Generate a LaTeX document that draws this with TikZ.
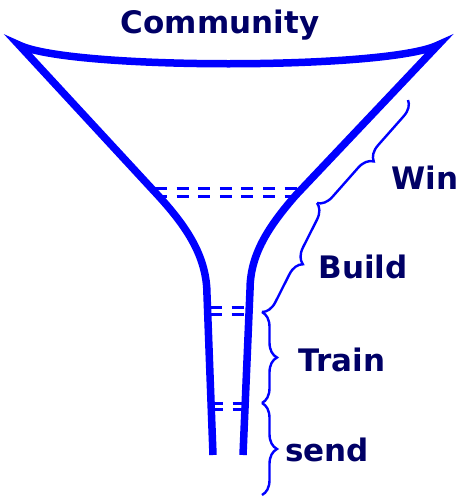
\documentclass[tikz,border=0pt]{standalone}
\usepackage{fontspec}
\setmainfont{DejaVu Sans}
\usetikzlibrary{decorations.pathreplacing}
\definecolor{funnelblue}{RGB}{0,0,255}
\definecolor{labelnavy}{RGB}{0,0,102}
\begin{document}
\begin{tikzpicture}[x=1pt, y=-1pt,
		funnel/.style={draw=funnelblue, line width=7.5pt, line join=miter},
		level/.style={draw=funnelblue, line width=3pt, dash pattern=on 12pt off 9.6pt},
		stage/.style={draw=funnelblue, line width=2.4pt, decorate, decoration={brace, amplitude=15pt}},
		tag/.style={text=labelnavy, font=\fontsize{31}{36}\selectfont\bfseries, inner sep=0pt, anchor=base}]
		\useasboundingbox (0,0) rectangle (457,498);

		% brace end points
		\coordinate (b0) at (408,100);
		\coordinate (b1) at (317,203);
		\coordinate (b2) at (262,312);
		\coordinate (b3) at (262,403);
		\coordinate (b4) at (262,495);

		% dashed levels
		\draw[level] (155,188) -- (299,188);
		\draw[level] (155,196) -- (299,196);
		\draw[level] (210,307) -- (244,307);
		\draw[level] (210,314) -- (244,314);
		\draw[level] (211,403) -- (243,403);
		\draw[level] (211,409) -- (243,409);

		% funnel
		\draw[funnel] (213,455) -- (207,295) .. controls (207,255) and (185,224) .. (153,190)
			-- (19,45) .. controls (70,70) and (387,70) .. (438,45)
			-- (296,195) .. controls (268,227) and (250,255) .. (250,290) -- (243,455);

		% stages
		\draw[stage] (b0) -- (b1);
		\draw[stage] (b1) -- (b2);
		\draw[stage] (b2) -- (b3);
		\draw[stage] (b3) -- (b4);

		\node[tag] (community) at (220,33) {Community};
		\node[tag] (win) at (425,189) {Win};
		\node[tag] (build) at (363,278) {Build};
		\node[tag] (train) at (342,371) {Train};
		\node[tag] (send) at (327,461) {send};
	\end{tikzpicture}
\end{document}
